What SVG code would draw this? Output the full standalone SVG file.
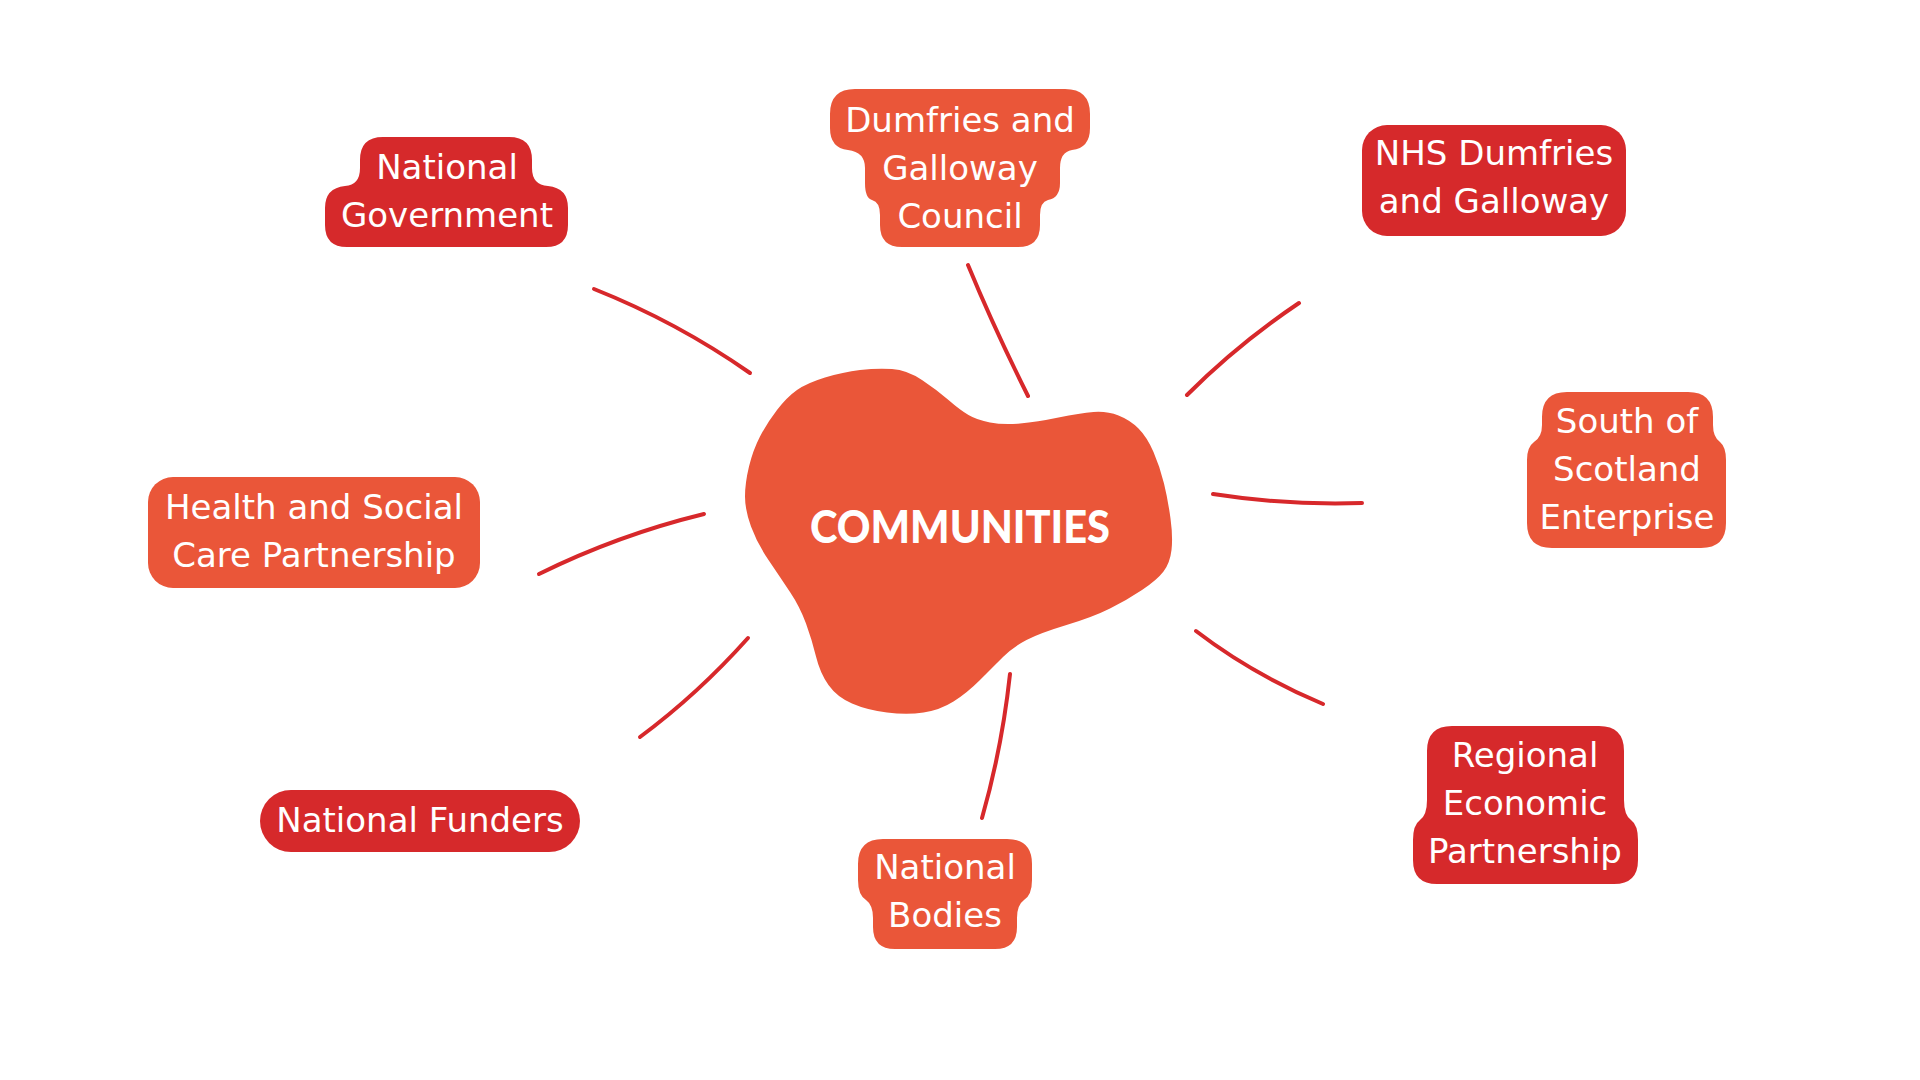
<svg xmlns="http://www.w3.org/2000/svg" width="1920" height="1080" viewBox="0 0 1920 1080">
<style>
.red{fill:#d6292b}
.orange{fill:#ea5639}
.lbl{font-family:"DejaVu Sans","Noto Sans",sans-serif;font-size:34px;fill:#ffffff;text-anchor:middle}
.conn{fill:none;stroke:#d7282b;stroke-width:4;stroke-linecap:round}
.title{font-family:"Lato","Liberation Sans",sans-serif;font-weight:900;font-size:46px;fill:#ffffff;text-anchor:middle}
</style>
<rect width="1920" height="1080" fill="#ffffff"/>
<g id="connectors">
<path class="conn" d="M594,289 Q677,322 750,373"/>
<path class="conn" d="M968,265 Q994,328 1028,396"/>
<path class="conn" d="M1299,303 Q1238,344 1187,395"/>
<path class="conn" d="M1213,494 Q1286.5,505.5 1362,503"/>
<path class="conn" d="M1196,631 Q1252,674 1323,704"/>
<path class="conn" d="M1010,674 Q1002,748 982,818"/>
<path class="conn" d="M748,638 Q698,694 640,737"/>
<path class="conn" d="M704,514 Q618,535 539,574"/>
</g>
<g id="communities">
<path class="orange" d="M860,370 Q877,368 892,369 Q907,370 922,380 Q937,390 948.5,400 Q960,410 968.5,415 Q977,420 990,422.5 Q1003,425 1020,423.5 Q1037,422 1058.5,417.5 Q1080,413 1093.5,412 Q1107,411 1118.5,415.5 Q1130,420 1138.5,428.5 Q1147,437 1153.5,452 Q1160,467 1164,483.5 Q1168,500 1170.5,518.5 Q1173,537 1171.5,550 Q1170,563 1163.5,571.5 Q1157,580 1142,590 Q1127,600 1110,608.5 Q1093,617 1066.5,625 Q1040,633 1026.5,640 Q1013,647 1003,657 Q993,667 980,680 Q967,693 953.5,701.5 Q940,710 923.5,712.5 Q907,715 887,712.5 Q867,710 852,703.5 Q837,697 828.5,685 Q820,673 816,656.5 Q812,640 806,623.5 Q800,607 790,592 Q780,577 768.5,560 Q757,543 751,526.5 Q745,510 745,496.5 Q745,483 749,466.5 Q753,450 760,436.5 Q767,423 777,410 Q787,397 797,390 Q807,383 825,377.5 Q843,372 860,370 Z"/>
<text class="title" x="960" y="543" textLength="300" lengthAdjust="spacingAndGlyphs">COMMUNITIES</text>
</g>
<g id="national-government">
<path class="red" d="M383,137 H509 Q532,137 532,160 V168 Q532,185 548,186 Q568,188 568,208 V225 Q568,247 546,247 H347 Q325,247 325,225 V208 Q325,188 345,186 Q360,185 360,168 V160 Q360,137 383,137 Z"/>
<text class="lbl" x="447" y="179">National</text>
<text class="lbl" x="447" y="227">Government</text>
</g>
<g id="dumfries-galloway-council">
<path class="orange" d="M855,89 H1065 Q1090,89 1090,114 V128 Q1090,148 1072,150 Q1060,152 1060,168 V183 Q1060,198 1048,200 Q1040,202 1040,215 V225 Q1040,247 1018,247 H902 Q880,247 880,225 V215 Q880,202 872,200 Q865,198 865,183 V168 Q865,152 848,150 Q830,148 830,128 V114 Q830,89 855,89 Z"/>
<text class="lbl" x="960" y="132">Dumfries and</text>
<text class="lbl" x="960" y="180">Galloway</text>
<text class="lbl" x="960" y="228">Council</text>
</g>
<g id="nhs-dumfries-galloway">
<rect class="red" x="1362" y="125" width="264" height="111" rx="25"/>
<text class="lbl" x="1494" y="165">NHS Dumfries</text>
<text class="lbl" x="1494" y="213">and Galloway</text>
</g>
<g id="south-of-scotland-enterprise">
<path class="orange" d="M1567,392 H1688 Q1713,392 1713,417 V425 Q1713,437 1720,442 Q1726,447 1726,460 V523 Q1726,548 1701,548 H1552 Q1527,548 1527,523 V460 Q1527,447 1534,442 Q1542,437 1542,425 V417 Q1542,392 1567,392 Z"/>
<text class="lbl" x="1627" y="433">South of</text>
<text class="lbl" x="1627" y="481">Scotland</text>
<text class="lbl" x="1627" y="529">Enterprise</text>
</g>
<g id="health-social-care">
<rect class="orange" x="148" y="477" width="332" height="111" rx="25"/>
<text class="lbl" x="314" y="519">Health and Social</text>
<text class="lbl" x="314" y="567">Care Partnership</text>
</g>
<g id="national-funders">
<rect class="red" x="260" y="790" width="320" height="62" rx="31"/>
<text class="lbl" x="420" y="832">National Funders</text>
</g>
<g id="national-bodies">
<path class="orange" d="M883,839 H1007 Q1032,839 1032,864 V880 Q1032,895 1024,900 Q1017,905 1017,918 V927 Q1017,949 995,949 H895 Q873,949 873,927 V918 Q873,905 866,900 Q858,895 858,880 V864 Q858,839 883,839 Z"/>
<text class="lbl" x="945" y="879">National</text>
<text class="lbl" x="945" y="927">Bodies</text>
</g>
<g id="regional-economic-partnership">
<path class="red" d="M1452,726 H1599 Q1624,726 1624,751 V800 Q1624,815 1631,820 Q1638,825 1638,840 V860 Q1638,884 1614,884 H1437 Q1413,884 1413,860 V840 Q1413,825 1420,820 Q1427,815 1427,800 V751 Q1427,726 1452,726 Z"/>
<text class="lbl" x="1525" y="767">Regional</text>
<text class="lbl" x="1525" y="815">Economic</text>
<text class="lbl" x="1525" y="863">Partnership</text>
</g>
</svg>
